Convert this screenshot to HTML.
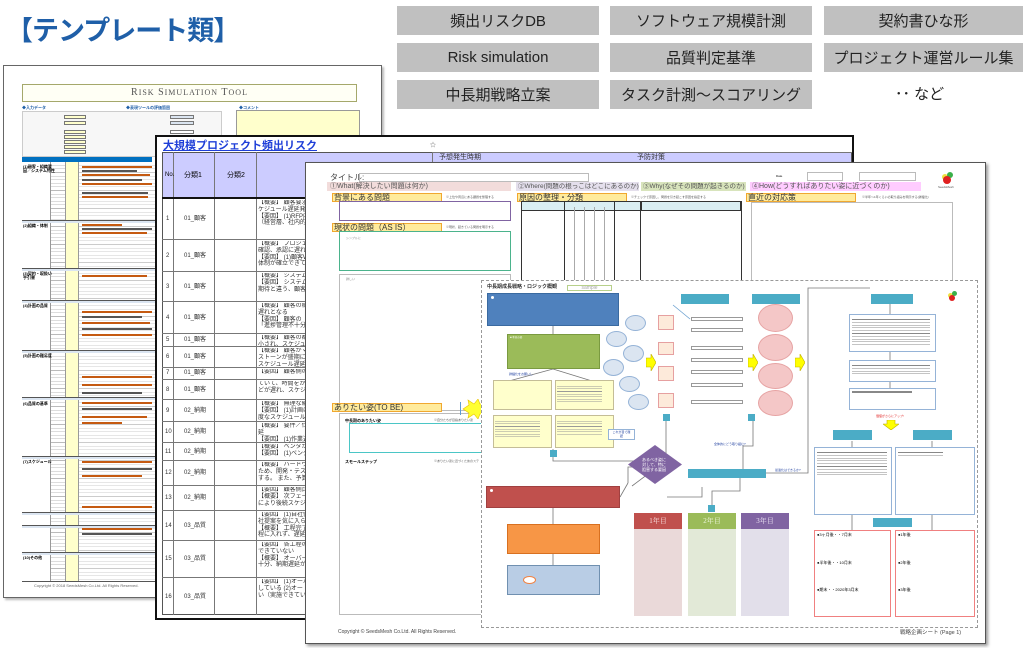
<!DOCTYPE html>
<html><head><meta charset="utf-8">
<style>
*{margin:0;padding:0;box-sizing:border-box}
body{width:1034px;height:648px;background:#fff;position:relative;overflow:hidden;font-family:"Liberation Sans","Noto Sans CJK JP",sans-serif}
.a{position:absolute}
.btn{position:absolute;background:#c0c0c0;color:#222;font-size:15px;display:flex;align-items:center;justify-content:center;width:202px;height:29px}
.t{position:absolute;white-space:nowrap;line-height:1}
.row{position:absolute;left:0;right:0;border-top:1px solid #777}
.lbl{position:absolute;background:#ffeb9c;border:1px solid #f0a830;font-size:8px;line-height:7px;padding-left:1px;color:#333;white-space:nowrap}
.teal{position:absolute;background:#4bacc6;color:#fff;font-size:3px}
.tx div{overflow:hidden;white-space:nowrap}
</style></head><body>

<div class="t" style="left:6px;top:18px;font-size:27px;color:#1f5fa8;font-weight:bold;letter-spacing:-1px">【テンプレート類】</div>

<div class="btn" style="left:397px;top:6px">頻出リスクDB</div>
<div class="btn" style="left:610px;top:6px">ソフトウェア規模計測</div>
<div class="btn" style="left:824px;top:6px;width:199px">契約書ひな形</div>
<div class="btn" style="left:397px;top:43px">Risk simulation</div>
<div class="btn" style="left:610px;top:43px">品質判定基準</div>
<div class="btn" style="left:824px;top:43px;width:199px">プロジェクト運営ルール集</div>
<div class="btn" style="left:397px;top:80px">中長期戦略立案</div>
<div class="btn" style="left:610px;top:80px">タスク計測～スコアリング</div>
<div class="t" style="left:895px;top:87px;font-size:15px;color:#222">･･ など</div>

<!-- Sheet 1 -->
<div class="a" style="left:3px;top:65px;width:379px;height:533px;border:1px solid #666;box-shadow:2px 2px 2px #bbb;background:#fff;overflow:hidden">
  <div class="a" style="left:18px;top:18px;width:335px;height:18px;border:1.5px solid #a5a86b;background:#fffff5;text-align:center;font-family:'Liberation Serif',serif;font-size:10px;line-height:16px;color:#555;letter-spacing:1px">R<span style="font-size:8px">ISK</span> S<span style="font-size:8px">IMULATION</span> T<span style="font-size:8px">OOL</span></div>
  <div class="t" style="left:18px;top:40px;font-size:4px;color:#1f5fa8;font-weight:bold">◆入力データ</div>
  <div class="t" style="left:122px;top:40px;font-size:4px;color:#1f5fa8;font-weight:bold">◆表現ツールの評価範囲</div>
  <div class="t" style="left:235px;top:40px;font-size:4px;color:#1f5fa8;font-weight:bold">◆コメント</div>
  <div class="a" style="left:18px;top:45px;width:200px;height:46px;border:1px solid #ccc;background:#f7f7f7"></div>
  <div class="a" style="left:60px;top:49px;width:22px;height:4px;background:#ffffcc;border:1px solid #777"></div>
  <div class="a" style="left:60px;top:55px;width:22px;height:4px;background:#ffffcc;border:1px solid #777"></div>
  <div class="a" style="left:60px;top:64px;width:22px;height:4px;background:#ffffcc;border:1px solid #777"></div>
  <div class="a" style="left:60px;top:69px;width:22px;height:4px;background:#ffffcc;border:1px solid #777"></div>
  <div class="a" style="left:60px;top:74px;width:22px;height:4px;background:#ffffcc;border:1px solid #777"></div>
  <div class="a" style="left:60px;top:79px;width:22px;height:4px;background:#ffffcc;border:1px solid #777"></div>
  <div class="a" style="left:60px;top:84px;width:22px;height:4px;background:#ffffcc;border:1px solid #777"></div>
  <div class="a" style="left:166px;top:49px;width:24px;height:4px;background:#dbe5f1;border:1px solid #777"></div>
  <div class="a" style="left:166px;top:55px;width:24px;height:4px;background:#dbe5f1;border:1px solid #777"></div>
  <div class="a" style="left:166px;top:64px;width:24px;height:4px;background:#fff;border:1px solid #777"></div>
  <div class="a" style="left:166px;top:69px;width:24px;height:4px;background:#fff;border:1px solid #777"></div>
  <div class="a" style="left:232px;top:44px;width:124px;height:30px;border:1px solid #999;background:#ffffcc"></div>
  <div class="a" style="left:18px;top:91px;width:130px;height:5px;background:#0070c0"></div>
  <div class="a" style="left:18px;top:96px;width:29px;height:419px;background:#fff;border-right:1px solid #999"></div>
  <div class="a" style="left:47px;top:96px;width:15px;height:419px;border-right:1px solid #999;background:repeating-linear-gradient(#fff 0 3px,#bbb 3px 3.6px)"></div>
  <div class="a" style="left:62px;top:96px;width:13px;height:419px;background:#ffffcc;border-right:1px solid #999"></div>
  <div class="a" style="left:75px;top:96px;width:80px;height:419px;background:repeating-linear-gradient(#fff 0 3px,#ccc 3px 3.6px)"></div>
  <div class="a" style="left:78px;top:100px;width:70px;height:2px;background:#c55a11"></div>
  <div class="a" style="left:78px;top:104px;width:55px;height:2px;background:#555"></div>
  <div class="a" style="left:78px;top:108px;width:68px;height:2px;background:#c55a11"></div>
  <div class="a" style="left:78px;top:113px;width:60px;height:2px;background:#555"></div>
  <div class="a" style="left:78px;top:117px;width:70px;height:2px;background:#c55a11"></div>
  <div class="a" style="left:78px;top:126px;width:66px;height:2px;background:#555"></div>
  <div class="a" style="left:78px;top:130px;width:66px;height:2px;background:#c55a11"></div>
  <div class="a" style="left:78px;top:158px;width:40px;height:2px;background:#c55a11"></div>
  <div class="a" style="left:78px;top:162px;width:70px;height:2px;background:#555"></div>
  <div class="a" style="left:78px;top:166px;width:65px;height:2px;background:#c55a11"></div>
  <div class="a" style="left:78px;top:209px;width:65px;height:2px;background:#c55a11"></div>
  <div class="a" style="left:78px;top:245px;width:70px;height:2px;background:#c55a11"></div>
  <div class="a" style="left:78px;top:250px;width:60px;height:2px;background:#555"></div>
  <div class="a" style="left:78px;top:256px;width:68px;height:2px;background:#c55a11"></div>
  <div class="a" style="left:78px;top:262px;width:70px;height:2px;background:#555"></div>
  <div class="a" style="left:78px;top:268px;width:70px;height:2px;background:#c55a11"></div>
  <div class="a" style="left:78px;top:310px;width:70px;height:2px;background:#c55a11"></div>
  <div class="a" style="left:78px;top:318px;width:70px;height:2px;background:#c55a11"></div>
  <div class="a" style="left:78px;top:326px;width:60px;height:2px;background:#555"></div>
  <div class="a" style="left:78px;top:336px;width:70px;height:2px;background:#c55a11"></div>
  <div class="a" style="left:78px;top:342px;width:70px;height:2px;background:#555"></div>
  <div class="a" style="left:78px;top:350px;width:65px;height:2px;background:#c55a11"></div>
  <div class="a" style="left:78px;top:356px;width:40px;height:2px;background:#c55a11"></div>
  <div class="a" style="left:78px;top:395px;width:70px;height:2px;background:#c55a11"></div>
  <div class="a" style="left:78px;top:402px;width:70px;height:2px;background:#555"></div>
  <div class="a" style="left:78px;top:409px;width:60px;height:2px;background:#c55a11"></div>
  <div class="a" style="left:78px;top:440px;width:70px;height:2px;background:#c55a11"></div>
  <div class="a" style="left:78px;top:446px;width:70px;height:2px;background:#555"></div>
  <div class="a" style="left:78px;top:462px;width:70px;height:2px;background:#c55a11"></div>
  <div class="a" style="left:78px;top:467px;width:70px;height:2px;background:#555"></div>
  <div class="a" style="left:18px;top:154px;width:137px;height:3px;background:#dbe5f1;border-top:1px solid #555"></div>
  <div class="a" style="left:18px;top:202px;width:137px;height:3px;background:#dbe5f1;border-top:1px solid #555"></div>
  <div class="a" style="left:18px;top:234px;width:137px;height:3px;background:#dbe5f1;border-top:1px solid #555"></div>
  <div class="a" style="left:18px;top:284px;width:137px;height:3px;background:#dbe5f1;border-top:1px solid #555"></div>
  <div class="a" style="left:18px;top:331px;width:137px;height:3px;background:#dbe5f1;border-top:1px solid #555"></div>
  <div class="a" style="left:18px;top:390px;width:137px;height:3px;background:#dbe5f1;border-top:1px solid #555"></div>
  <div class="a" style="left:18px;top:446px;width:137px;height:3px;background:#dbe5f1;border-top:1px solid #555"></div>
  <div class="a" style="left:18px;top:459px;width:137px;height:3px;background:#dbe5f1;border-top:1px solid #555"></div>
  <div class="a" style="left:18px;top:486px;width:137px;height:3px;background:#dbe5f1;border-top:1px solid #555"></div>
  <div class="a" style="left:18px;top:515px;width:137px;height:1px;background:#555"></div>
  <div class="t" style="left:19px;top:99px;font-size:4px;font-weight:bold">(1)顧客・組織要<br>因／システム特性</div>
  <div class="t" style="left:19px;top:158px;font-size:4px;font-weight:bold">(2)組織・体制</div>
  <div class="t" style="left:19px;top:206px;font-size:4px;font-weight:bold">(3)契約・取扱い<br>手引書</div>
  <div class="t" style="left:19px;top:238px;font-size:4px;font-weight:bold">(4)計画の品質</div>
  <div class="t" style="left:19px;top:288px;font-size:4px;font-weight:bold">(5)計画の難易度</div>
  <div class="t" style="left:19px;top:336px;font-size:4px;font-weight:bold">(6)品質の基準</div>
  <div class="t" style="left:19px;top:394px;font-size:4px;font-weight:bold">(7)スケジュール</div>
  <div class="t" style="left:19px;top:490px;font-size:4px;font-weight:bold">(10)その他</div>
  <div class="t" style="left:30px;top:518px;font-size:4px;color:#666">Copyright © 2018 SeedsMesh Co.Ltd. All Rights Reserved.</div>
</div>

<!-- Sheet 2 -->
<div class="a" style="left:155px;top:135px;width:699px;height:485px;border:2px solid #111;background:#fff;overflow:hidden">
  <div class="t" style="left:6px;top:4px;font-size:11px;color:#1f3fd8;font-weight:bold;text-decoration:underline">大規模プロジェクト頻出リスク</div>
  <div class="t" style="left:273px;top:6px;font-size:6px;color:#555">☆</div>
  <div class="a" style="left:5px;top:15px;width:690px;height:46px;background:#ccccff;border:1px solid #555"></div>
  <div class="a" style="left:5px;top:15px;width:690px;height:463px;border:1px solid #555"></div>
  <div class="a" style="left:16px;top:15px;width:1px;height:463px;background:#777"></div>
  <div class="a" style="left:57px;top:15px;width:1px;height:463px;background:#777"></div>
  <div class="a" style="left:99px;top:15px;width:1px;height:463px;background:#777"></div>
  <div class="a" style="left:275px;top:15px;width:1px;height:12px;background:#777"></div>
  <div class="a" style="left:275px;top:15px;width:420px;height:1px;background:#777"></div>
  <div class="t" style="left:282px;top:17px;font-size:7px;color:#333">予想発生時期</div>
  <div class="t" style="left:480px;top:17px;font-size:7px;color:#333">予防対策</div>
  <div class="t" style="left:8px;top:35px;font-size:6px">No.</div>
  <div class="t" style="left:27px;top:35px;font-size:7px">分類1</div>
  <div class="t" style="left:70px;top:35px;font-size:7px">分類2</div>
  <div class="a" style="left:5px;top:60px;width:690px;height:1.5px;background:#111"></div>
  <div class="a" style="left:5px;top:61px;width:150px;height:417px;font-size:6px;color:#333">
    <div class="row" style="top:41px"></div><div class="row" style="top:73px"></div><div class="row" style="top:103px"></div>
    <div class="row" style="top:135px"></div><div class="row" style="top:148px"></div><div class="row" style="top:169px"></div>
    <div class="row" style="top:181px"></div><div class="row" style="top:201px"></div><div class="row" style="top:223px"></div>
    <div class="row" style="top:244px"></div><div class="row" style="top:262px"></div><div class="row" style="top:287px"></div>
    <div class="row" style="top:312px"></div><div class="row" style="top:342px"></div><div class="row" style="top:379px"></div>
    <div class="t" style="left:4px;top:18px">1</div><div class="t" style="left:22px;top:18px">01_顧客</div>
    <div class="t" style="left:4px;top:55px">2</div><div class="t" style="left:22px;top:55px">01_顧客</div>
    <div class="t" style="left:4px;top:86px">3</div><div class="t" style="left:22px;top:86px">01_顧客</div>
    <div class="t" style="left:4px;top:117px">4</div><div class="t" style="left:22px;top:117px">01_顧客</div>
    <div class="t" style="left:4px;top:139px">5</div><div class="t" style="left:22px;top:139px">01_顧客</div>
    <div class="t" style="left:4px;top:156px">6</div><div class="t" style="left:22px;top:156px">01_顧客</div>
    <div class="t" style="left:4px;top:172px">7</div><div class="t" style="left:22px;top:172px">01_顧客</div>
    <div class="t" style="left:4px;top:189px">8</div><div class="t" style="left:22px;top:189px">01_顧客</div>
    <div class="t" style="left:4px;top:210px">9</div><div class="t" style="left:22px;top:210px">02_納期</div>
    <div class="t" style="left:3px;top:231px">10</div><div class="t" style="left:22px;top:231px">02_納期</div>
    <div class="t" style="left:3px;top:251px">11</div><div class="t" style="left:22px;top:251px">02_納期</div>
    <div class="t" style="left:3px;top:272px">12</div><div class="t" style="left:22px;top:272px">02_納期</div>
    <div class="t" style="left:3px;top:297px">13</div><div class="t" style="left:22px;top:297px">02_納期</div>
    <div class="t" style="left:3px;top:325px">14</div><div class="t" style="left:22px;top:325px">03_品質</div>
    <div class="t" style="left:3px;top:358px">15</div><div class="t" style="left:22px;top:358px">03_品質</div>
    <div class="t" style="left:3px;top:396px">16</div><div class="t" style="left:22px;top:396px">03_品質</div>
  </div>
  <div class="a tx" style="left:101px;top:63px;width:50px;font-size:6px;line-height:6.8px;color:#333">
    <div style="height:41px">【概要】 顧客要求<br>ケジュール遅延発<br>【要因】 (1)RFP内<br>（経営層、社内的</div>
    <div style="height:32px">【概要】 プロジェ<br>確認、承認に遅れ<br>【要因】 (1)顧客W<br>体制が確立できて</div>
    <div style="height:30px">【概要】 システム<br>【要因】 システム<br>期待と違う、顧客</div>
    <div style="height:32px">【概要】 顧客の稼<br>遅れとなる<br>【要因】 顧客の「<br>「進捗管理不十分</div>
    <div style="height:13px">【概要】 顧客の都<br>小され、スケジュ</div>
    <div style="height:21px">【概要】 顧客がマ<br>ストーンが盛期に<br>スケジュール遅延</div>
    <div style="height:12px">【要因】 顧客側の</div>
    <div style="height:20px">ていて、時間をか<br>どが遅れ、スケジ</div>
    <div style="height:22px">【概要】 無理な納<br>【要因】 (1)計画は<br>度なスケジュール</div>
    <div style="height:21px">【概要】 要件／仕<br>延<br>【要因】 (1)作業遅</div>
    <div style="height:18px">【概要】 ベンダが<br>【要因】 (1)ベンダ</div>
    <div style="height:25px">【概要】 ハードウ<br>ため、開発・テス<br>する。 また、予算</div>
    <div style="height:25px">【要因】 顧客側比<br>【概要】 次フェー<br>により後続スケジ</div>
    <div style="height:30px">【要因】 (1)自社側<br>社提案を気に入ら<br>【概要】 工程完了<br>程に入れず、遅延</div>
    <div style="height:37px">【要因】 各工程の<br>できていない<br>【概要】 オーバー<br>十分、納期遅延が</div>
    <div style="height:37px">【要因】 (1)オーバ<br>している (2)オー<br>い（実施できてい</div>
  </div>
</div>

<!-- Sheet 3 -->
<div class="a" style="left:305px;top:162px;width:681px;height:482px;border:1px solid #555;box-shadow:2px 2px 3px #999;background:#fff;overflow:hidden">
  <div class="t" style="left:24px;top:11px;font-size:8px;color:#444">タイトル:</div>
  <div class="a" style="left:53px;top:10px;width:230px;height:9px;border:1px solid #bbb"></div>
  <div class="t" style="left:470px;top:12px;font-size:3px">Date</div>
  <div class="a" style="left:501px;top:9px;width:36px;height:9px;border:1px solid #bbb"></div>
  <div class="a" style="left:553px;top:9px;width:57px;height:9px;border:1px solid #bbb"></div>
  <div class="a" style="left:636px;top:11px;width:6px;height:6px;border-radius:50%;background:#f0e040"></div>
  <div class="a" style="left:641px;top:9px;width:6px;height:6px;border-radius:50%;background:#3ab04a"></div>
  <div class="a" style="left:637px;top:13px;width:8px;height:8px;border-radius:50%;background:#e02020"></div>
  <div class="t" style="left:632px;top:23px;font-size:3px;color:#555">SeedsMesh</div>

  <div class="a" style="left:21px;top:19px;width:184px;height:9px;background:#f2dcdb;font-size:7px;line-height:9px;color:#555;padding-left:3px;white-space:nowrap;overflow:hidden">①What(解決したい問題は何か)</div>
  <div class="a" style="left:210px;top:19px;width:123px;height:9px;background:#e4dfec;font-size:6.5px;line-height:9px;color:#555;padding-left:2px;white-space:nowrap;overflow:hidden">②Where(問題の根っこはどこにあるのか)</div>
  <div class="a" style="left:335px;top:19px;width:105px;height:9px;background:#d8e4bc;font-size:6.5px;line-height:9px;color:#555;padding-left:2px;white-space:nowrap;overflow:hidden">③Why(なぜその問題が起きるのか)</div>
  <div class="a" style="left:444px;top:19px;width:171px;height:9px;background:#ffccff;font-size:7px;line-height:9px;color:#555;padding-left:2px;white-space:nowrap;overflow:hidden">④How(どうすればありたい姿に近づくのか)</div>

  <div class="lbl" style="left:26px;top:30px;width:110px;height:9px">背景にある問題</div>
  <div class="t" style="left:140px;top:33px;font-size:3px;color:#555">※上位や周辺にある課題を整理する</div>
  <div class="a" style="left:33px;top:38px;width:172px;height:20px;border:1.5px solid #8064a2"></div>
  <div class="lbl" style="left:26px;top:60px;width:110px;height:9px">現状の問題（AS IS）</div>
  <div class="t" style="left:140px;top:63px;font-size:3px;color:#555">※現状、起きている問題を明示する</div>
  <div class="a" style="left:33px;top:68px;width:172px;height:40px;border:1.5px solid #4bb38c"></div>
  <div class="t" style="left:40px;top:74px;font-size:3px;color:#888">シンプルに</div>
  <div class="a" style="left:33px;top:111px;width:172px;height:137px;border:1px solid #bbb"></div>
  <div class="t" style="left:40px;top:115px;font-size:3px;color:#888">詳しい</div>
  <div class="a" style="left:33px;top:250px;width:180px;height:202px;border:1px solid #bbb"></div>
  <div class="lbl" style="left:26px;top:240px;width:110px;height:9px">ありたい姿(TO BE)</div>
  <div class="a" style="left:154px;top:239px;width:1px;height:13px;background:#5b9bd5"></div>
  <svg class="a" style="left:155px;top:236px" width="26" height="20"><polygon points="2,10 8,6 7,1 13,5 17,0 19,5 26,4 22,10 26,15 19,15 17,20 13,15 7,19 8,14" fill="#ffff33" stroke="#e8c000" stroke-width="0.6"/></svg>
  <div class="t" style="left:39px;top:256px;font-size:4px;font-weight:bold">中長期のありたい姿</div>
  <div class="t" style="left:128px;top:256px;font-size:3px;color:#555">※自分たちが目指ありたい姿</div>
  <div class="a" style="left:43px;top:260px;width:140px;height:30px;border:1.5px solid #4bc6c6"></div>
  <div class="t" style="left:39px;top:297px;font-size:4px;font-weight:bold">スモールステップ</div>
  <div class="t" style="left:128px;top:297px;font-size:3px;color:#555">※ありたい姿に近づくためのステ</div>
  <div class="t" style="left:32px;top:467px;font-size:5px;color:#444">Copyright © SeedsMesh Co.Ltd. All Rights Reserved.</div>
  <div class="t" style="left:594px;top:468px;font-size:5.5px;color:#444">戦略企画シート (Page 1)</div>

  <div class="lbl" style="left:211px;top:30px;width:110px;height:9px">原因の整理・分類</div>
  <div class="t" style="left:325px;top:33px;font-size:3px;color:#555">※チェックで原因し、問題を引き起こす原因を指定する</div>
  <div class="a" style="left:215px;top:38px;width:120px;height:242px;border:1px solid #333;border-top:none"></div>
  <div class="a" style="left:215px;top:38px;width:120px;height:10px;background:#daeef3;border:1px solid #333;border-bottom-width:1.5px"></div>
  <div class="a" style="left:258px;top:38px;width:1px;height:242px;background:#333"></div>
  <div class="a" style="left:268px;top:44px;width:1px;height:236px;background:#aaa"></div>
  <div class="a" style="left:278px;top:44px;width:1px;height:236px;background:#aaa"></div>
  <div class="a" style="left:288px;top:44px;width:1px;height:236px;background:#aaa"></div>
  <div class="a" style="left:298px;top:44px;width:1px;height:236px;background:#aaa"></div>
  <div class="a" style="left:308px;top:38px;width:1px;height:242px;background:#333"></div>
  <div class="a" style="left:335px;top:38px;width:100px;height:10px;background:#daeef3;border:1px solid #333;border-bottom-width:1.5px"></div>
  <div class="a" style="left:435px;top:38px;width:1px;height:242px;background:#333"></div>

  <div class="lbl" style="left:440px;top:30px;width:110px;height:9px">直近の対応策</div>
  <div class="t" style="left:556px;top:33px;font-size:3px;color:#555">※半年〜1年くらいの取り組みを明示する(詳細化)</div>
  <div class="a" style="left:445px;top:39px;width:202px;height:90px;border:1px solid #bbb"></div>
</div>

<!-- Sheet 4 -->
<div class="a" style="left:481px;top:280px;width:497px;height:348px;border:1px dashed #999;background:#fff;overflow:hidden">
<svg class="a" style="left:0;top:0" width="497" height="348">
  <g stroke="#777" stroke-width="0.8" fill="none">
    <line x1="71" y1="45" x2="71" y2="53"/>
    <polyline points="71,88 27,100"/><polyline points="71,88 110,100"/>
    <polyline points="71,168 71,180 160,180"/>
    <polyline points="146,202 146,186 184,186 184,140"/>
    <polyline points="150,205 170,190 180,185"/>
    <line x1="146" y1="202" x2="138" y2="216"/>
    <polyline points="71,227 71,246"/>
    <polyline points="71,270 71,284"/>
    <polyline points="185,216 220,216 220,206"/>
    <polyline points="261,188 261,165 271,165 271,140"/>
    <polyline points="258,197 258,210 230,210 230,224"/>
    <polyline points="284,192 326,192 326,7 388,7"/>
    <line x1="408" y1="23" x2="408" y2="33"/>
    <line x1="408" y1="71" x2="408" y2="79"/>
    <line x1="408" y1="101" x2="408" y2="107"/>
    <line x1="370" y1="160" x2="370" y2="166"/>
    <line x1="450" y1="160" x2="450" y2="166"/>
    <line x1="370" y1="233" x2="370" y2="249"/>
    <line x1="450" y1="233" x2="450" y2="249"/>
    <line x1="191" y1="24" x2="208" y2="38" stroke="#6aa0d0"/>
  </g>
</svg>
  <div class="t" style="left:5px;top:4px;font-size:5px;font-weight:bold;color:#333">中長期成長戦略・ロジック概観</div>
  <div class="a" style="left:85px;top:4px;width:45px;height:6px;border:1px solid #b7d08a;font-size:5px;line-height:5px;color:#aaa;text-align:center">sample</div>
  <div class="a" style="left:5px;top:12px;width:132px;height:33px;background:#4f81bd;border:1px solid #3a6aa0"></div>
  <div class="a" style="left:9px;top:15px;width:3px;height:3px;border-radius:50%;background:#fff"></div>
  <div class="a" style="left:25px;top:53px;width:93px;height:35px;background:#9bbb59;border:1px solid #7a9a40"></div>
  <div class="t" style="left:28px;top:56px;font-size:2.5px;color:#fff">■ 本来の姿</div>
  <div class="t" style="left:27px;top:92px;font-size:3px;color:#1f3f9f">詳細化をお願いし</div>
  <div class="a" style="left:11px;top:99px;width:59px;height:30px;background:#ffffcc;border:1px solid #c4bd97"></div>
  <div class="a" style="left:73px;top:99px;width:59px;height:30px;background:#ffffcc;border:1px solid #c4bd97"></div>
  <div class="a" style="left:11px;top:134px;width:59px;height:33px;background:#ffffcc;border:1px solid #c4bd97"></div>
  <div class="a" style="left:73px;top:134px;width:59px;height:33px;background:#ffffcc;border:1px solid #c4bd97"></div>
  <div class="a" style="left:75px;top:103px;width:45px;height:18px;background:repeating-linear-gradient(#ffffcc 0 2px,#999 2px 2.6px)"></div>
  <div class="a" style="left:13px;top:138px;width:45px;height:20px;background:repeating-linear-gradient(#ffffcc 0 2px,#999 2px 2.6px)"></div>
  <div class="a" style="left:75px;top:138px;width:45px;height:16px;background:repeating-linear-gradient(#ffffcc 0 2px,#999 2px 2.6px)"></div>
  <div class="a" style="left:126px;top:148px;width:27px;height:11px;background:#fff;border:1px solid #95b3d7;font-size:3px;color:#1f3f9f;text-align:center;line-height:4px">これが目で確<br>認</div>
  <div class="a" style="left:143px;top:34px;width:21px;height:16px;border-radius:50%;background:#dbe5f1;border:1px solid #95b3d7"></div>
  <div class="a" style="left:124px;top:50px;width:21px;height:16px;border-radius:50%;background:#dbe5f1;border:1px solid #95b3d7"></div>
  <div class="a" style="left:141px;top:64px;width:21px;height:17px;border-radius:50%;background:#dbe5f1;border:1px solid #95b3d7"></div>
  <div class="a" style="left:121px;top:78px;width:21px;height:17px;border-radius:50%;background:#dbe5f1;border:1px solid #95b3d7"></div>
  <div class="a" style="left:137px;top:95px;width:21px;height:16px;border-radius:50%;background:#dbe5f1;border:1px solid #95b3d7"></div>
  <div class="a" style="left:146px;top:113px;width:21px;height:16px;border-radius:50%;background:#dbe5f1;border:1px solid #95b3d7"></div>
  <svg class="a" style="left:164px;top:73px" width="10" height="17"><polygon points="0,4 5,4 5,0 10,8.5 5,17 5,13 0,13" fill="#ffff00" stroke="#c0b000" stroke-width="0.6"/></svg>
  <svg class="a" style="left:266px;top:73px" width="10" height="17"><polygon points="0,4 5,4 5,0 10,8.5 5,17 5,13 0,13" fill="#ffff00" stroke="#c0b000" stroke-width="0.6"/></svg>
  <svg class="a" style="left:313px;top:73px" width="10" height="17"><polygon points="0,4 5,4 5,0 10,8.5 5,17 5,13 0,13" fill="#ffff00" stroke="#c0b000" stroke-width="0.6"/></svg>
  <svg class="a" style="left:401px;top:139px" width="16" height="10"><polygon points="4,0 12,0 12,4 16,4 8,10 0,4 4,4" fill="#ffff00" stroke="#c0b000" stroke-width="0.6"/></svg>
  <div class="t" style="left:394px;top:134px;font-size:3px;color:#e02020">価値がさらにアップ!</div>
  <div class="a" style="left:176px;top:34px;width:16px;height:15px;background:#fdeada;border:1px solid #e6a0a0"></div>
  <div class="a" style="left:176px;top:61px;width:16px;height:13px;background:#fdeada;border:1px solid #e6a0a0"></div>
  <div class="a" style="left:176px;top:85px;width:16px;height:15px;background:#fdeada;border:1px solid #e6a0a0"></div>
  <div class="a" style="left:176px;top:112px;width:16px;height:15px;background:#fdeada;border:1px solid #e6a0a0"></div>
  <div class="a" style="left:209px;top:36px;width:52px;height:4px;border:1px solid #999"></div>
  <div class="a" style="left:209px;top:47px;width:52px;height:4px;border:1px solid #999"></div>
  <div class="a" style="left:209px;top:65px;width:52px;height:4px;border:1px solid #999"></div>
  <div class="a" style="left:209px;top:77px;width:52px;height:4px;border:1px solid #999"></div>
  <div class="a" style="left:209px;top:89px;width:52px;height:4px;border:1px solid #999"></div>
  <div class="a" style="left:209px;top:102px;width:52px;height:4px;border:1px solid #999"></div>
  <div class="a" style="left:209px;top:119px;width:52px;height:4px;border:1px solid #999"></div>
  <div class="a" style="left:276px;top:23px;width:35px;height:28px;border-radius:50%;background:#f4c7c7;border:1px solid #e6a3a3"></div>
  <div class="a" style="left:276px;top:53px;width:35px;height:27px;border-radius:50%;background:#f4c7c7;border:1px solid #e6a3a3"></div>
  <div class="a" style="left:276px;top:82px;width:35px;height:26px;border-radius:50%;background:#f4c7c7;border:1px solid #e6a3a3"></div>
  <div class="a" style="left:276px;top:109px;width:35px;height:26px;border-radius:50%;background:#f4c7c7;border:1px solid #e6a3a3"></div>
  <div class="teal" style="left:199px;top:13px;width:48px;height:10px"></div>
  <div class="teal" style="left:270px;top:13px;width:48px;height:10px"></div>
  <div class="teal" style="left:389px;top:13px;width:42px;height:10px"></div>
  <div class="teal" style="left:351px;top:149px;width:39px;height:10px"></div>
  <div class="teal" style="left:431px;top:149px;width:39px;height:10px"></div>
  <div class="teal" style="left:391px;top:237px;width:39px;height:9px"></div>
  <div class="teal" style="left:206px;top:188px;width:78px;height:9px"></div>
  <div class="teal" style="left:181px;top:133px;width:7px;height:7px"></div>
  <div class="teal" style="left:266px;top:133px;width:7px;height:7px"></div>
  <div class="teal" style="left:68px;top:169px;width:7px;height:7px"></div>
  <div class="teal" style="left:226px;top:224px;width:7px;height:7px"></div>
  <div class="t" style="left:232px;top:162px;font-size:3px;color:#1f3f9f">全体的にどう取り組む?</div>
  <div class="t" style="left:293px;top:188px;font-size:3px;color:#1f3f9f">最適化はできるか?</div>
  <div class="a" style="left:367px;top:33px;width:87px;height:38px;border:1.5px solid #95b3d7"></div>
  <div class="a" style="left:370px;top:36px;width:78px;height:28px;background:repeating-linear-gradient(#fff 0 2.2px,#888 2.2px 2.8px)"></div>
  <div class="a" style="left:367px;top:79px;width:87px;height:22px;border:1.5px solid #95b3d7"></div>
  <div class="a" style="left:370px;top:82px;width:78px;height:11px;background:repeating-linear-gradient(#fff 0 2.2px,#888 2.2px 2.8px)"></div>
  <div class="a" style="left:367px;top:107px;width:87px;height:22px;border:1.5px solid #95b3d7"></div>
  <div class="a" style="left:370px;top:110px;width:60px;height:2px;background:#888"></div>
  <div class="a" style="left:332px;top:166px;width:78px;height:68px;border:1.5px solid #95b3d7"></div>
  <div class="a" style="left:335px;top:169px;width:70px;height:26px;background:repeating-linear-gradient(#fff 0 2.2px,#888 2.2px 2.8px)"></div>
  <div class="a" style="left:413px;top:166px;width:80px;height:68px;border:1.5px solid #95b3d7"></div>
  <div class="a" style="left:416px;top:169px;width:45px;height:8px;background:repeating-linear-gradient(#fff 0 2.2px,#888 2.2px 2.8px)"></div>
  <div class="a" style="left:332px;top:249px;width:77px;height:87px;border:1.5px solid #f08080"></div>
  <div class="a" style="left:413px;top:249px;width:80px;height:87px;border:1.5px solid #f08080"></div>
  <div class="t" style="left:335px;top:252px;font-size:4px">●3ヶ月後・・7月末</div>
  <div class="t" style="left:335px;top:280px;font-size:4px">●半年後・・10月末</div>
  <div class="t" style="left:335px;top:307px;font-size:4px">●期末・・2020年3月末</div>
  <div class="t" style="left:416px;top:252px;font-size:4px">●1年後</div>
  <div class="t" style="left:416px;top:280px;font-size:4px">●2年後</div>
  <div class="t" style="left:416px;top:307px;font-size:4px">●3年後</div>
  <div class="a" style="left:466px;top:12px;width:5px;height:5px;border-radius:50%;background:#f0e040"></div>
  <div class="a" style="left:470px;top:10px;width:5px;height:5px;border-radius:50%;background:#3ab04a"></div>
  <div class="a" style="left:467px;top:14px;width:6px;height:6px;border-radius:50%;background:#e02020"></div>
  <svg class="a" style="left:146px;top:164px" width="54" height="39"><polygon points="27,0 54,19.5 27,39 0,19.5" fill="#8064a2"/></svg>
  <div class="t" style="left:160px;top:176px;font-size:4px;color:#fff;text-align:center;line-height:5px">あるべき姿に<br>対して、特に<br>阻害する要因</div>
  <div class="a" style="left:4px;top:205px;width:134px;height:22px;background:#c0504d;border:1px solid #a04040"></div>
  <div class="a" style="left:8px;top:208px;width:3px;height:3px;border-radius:50%;background:#fff"></div>
  <div class="a" style="left:25px;top:243px;width:93px;height:30px;background:#f79646;border:1px solid #d87020"></div>
  <div class="a" style="left:25px;top:284px;width:93px;height:30px;background:#b9cde5;border:1px solid #7090b0"></div>
  <div class="a" style="left:41px;top:295px;width:13px;height:8px;border-radius:50%;background:#fff;border:1px solid #f08040"></div>
  <div class="a" style="left:152px;top:232px;width:48px;height:16px;background:#c0504d;color:#f8e0e0;font-size:7px;text-align:center;line-height:16px;font-family:'Liberation Serif','Noto Serif CJK SC',serif">1年目</div>
  <div class="a" style="left:152px;top:248px;width:48px;height:87px;background:#ead9d9"></div>
  <div class="a" style="left:206px;top:232px;width:48px;height:16px;background:#9bbb59;color:#f0f8e0;font-size:7px;text-align:center;line-height:16px;font-family:'Liberation Serif','Noto Serif CJK SC',serif">2年目</div>
  <div class="a" style="left:206px;top:248px;width:48px;height:87px;background:#e2e9d7"></div>
  <div class="a" style="left:259px;top:232px;width:48px;height:16px;background:#8064a2;color:#ece4f4;font-size:7px;text-align:center;line-height:16px;font-family:'Liberation Serif','Noto Serif CJK SC',serif">3年目</div>
  <div class="a" style="left:259px;top:248px;width:48px;height:87px;background:#e2dfea"></div>
</div>

</body></html>
